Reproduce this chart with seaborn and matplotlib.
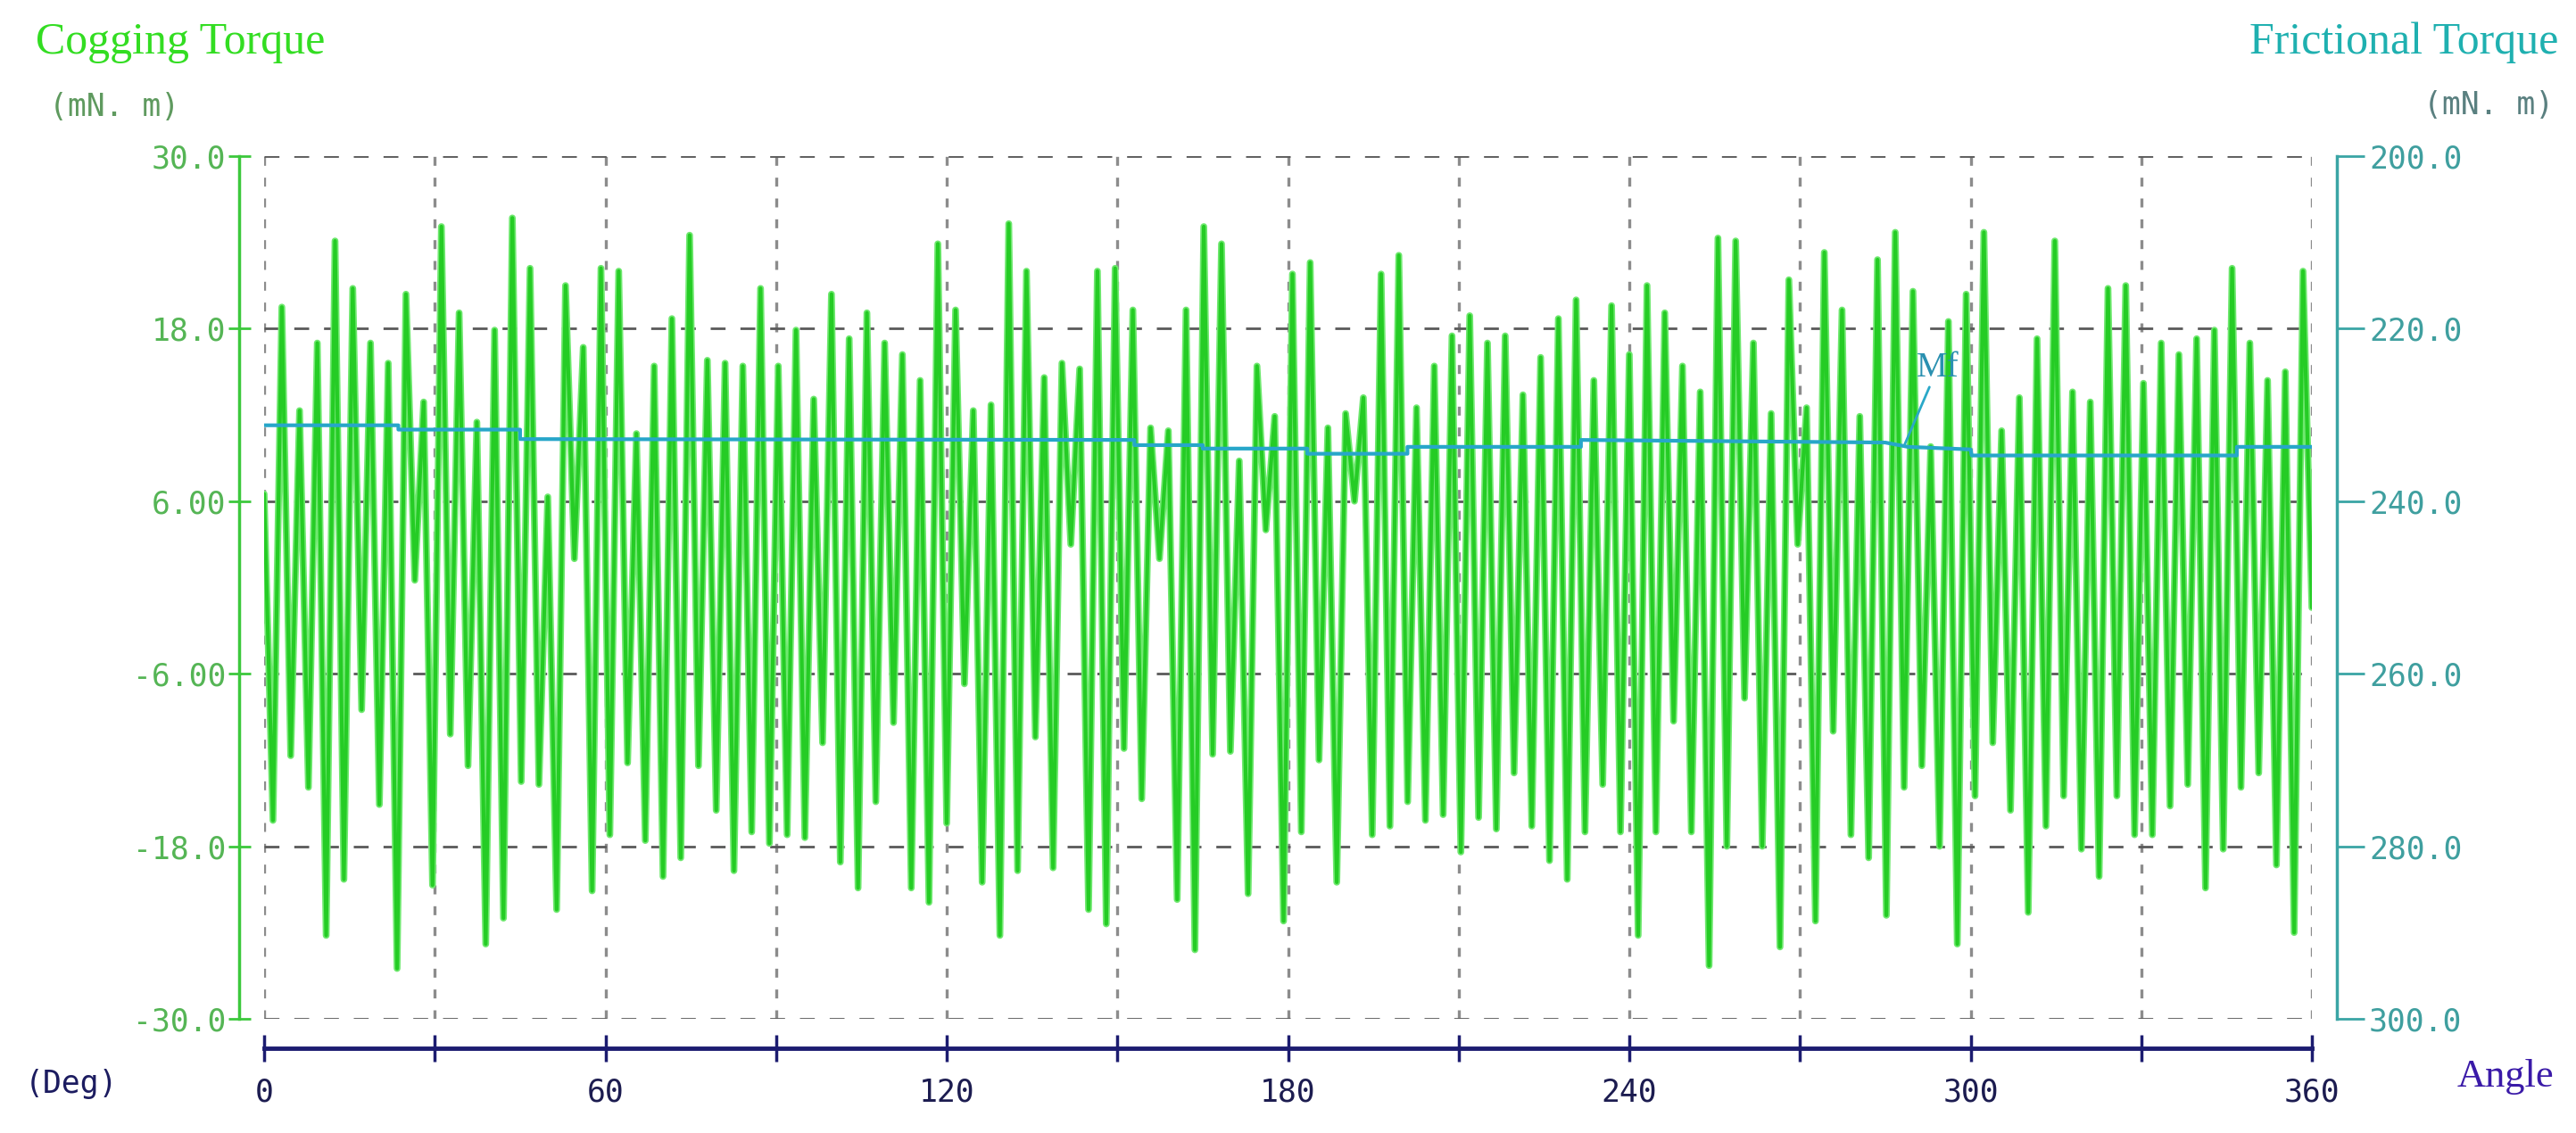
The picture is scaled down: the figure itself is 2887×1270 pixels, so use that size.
import numpy as np
import matplotlib
matplotlib.use('Agg')
import matplotlib.pyplot as plt
import seaborn as sns

# Cogging torque (mN.m), alternating troughs / peaks, in 5 angle blocks
cogging_0_72 = [6.5, -16.2, 19.5, -11.7, 12.3, -13.9, 17, -24.2, 24.1, -20.3, 20.8, -8.5, 17,
                -15.1, 15.6, -26.5, 20.4, 0.5, 12.9, -20.7, 25.1, -10.2, 19.1, -12.4, 11.5,
                -24.8, 17.9, -23, 25.7, -13.5, 22.2, -13.7, 6.3, -22.4, 21, 2, 16.7, -21.1,
                22.2, -17.2, 22, -12.2, 10.7, -17.6, 15.4, -20.1, 18.7, -18.8, 24.5]
cogging_72_144 = [-12.4, 15.8, -15.5, 15.6, -19.7, 15.4, -17, 20.8, -17.8, 15.4, -17.2, 17.9,
                  -17.4, 13.1, -10.8, 20.4, -19.1, 17.3, -20.9, 19.1, -14.9, 17, -9.4, 16.2,
                  -20.9, 14.4, -21.9, 23.9, -16.4, 19.3, -6.7, 12.3, -20.5, 12.7, -24.2, 25.3,
                  -19.7, 22, -10.4, 14.6, -19.5, 15.6, 3, 15.2, -22.4]
cogging_144_216 = [22, -23.4, 22.2, -11.2, 19.3, -14.7, 11.1, 2, 10.9, -21.7, 19.3, -25.2, 25.1,
                   -11.6, 23.9, -11.4, 8.8, -21.3, 15.4, 4, 11.9, -23.2, 21.8, -17, 22.6, -12,
                   11.1, -20.5, 12.1, 6, 13.2, -17.2, 21.8, -16.6, 23.1, -14.9, 12.5, -16.2,
                   15.4, -15.8, 17.5, -18.4, 18.9, -16, 17, -16.8, 17.5, -12.9, 13.4]
cogging_216_288 = [-16.6, 16, -19, 18.7, -20.3, 20, -17, 14.4, -13.7, 19.6, -17, 16.2, -24.2, 21,
                   -17, 19.1, -9.3, 15.4, -17, 13.6, -26.3, 24.3, -18, 24.1, -7.7, 17, -18, 12.1,
                   -25, 21.4, 3, 12.5, -23.2, 23.3, -10, 19.3, -17.2, 11.9, -18.8, 22.8, -22.8,
                   24.7, -13.9, 20.6, -12.4, 9.8]
cogging_288_360 = [-18, 18.5, -24.8, 20.4, -14.5, 24.7, -10.8, 10.9, -15.5, 13.2, -22.6, 17.3,
                   -16.6, 24.1, -14.5, 13.6, -18.2, 12.9, -20.1, 20.8, -14.5, 21, -17.2, 14.2,
                   -17.2, 17, -15.2, 16.2, -13.7, 17.3, -20.9, 17.9, -18.2, 22.2, -13.9, 17,
                   -12.9, 14.4, -19.3, 15, -24, 22, -1.4]

# Frictional torque (mN.m), stepped trace
friction_angle = [0, 23.6, 23.6, 45, 45, 153, 153, 165, 165, 183.4, 183.4, 201, 201, 231.5,
                  231.5, 285, 289, 300, 300.2, 346.8, 346.8, 360]
friction_value = [231.2, 231.2, 231.7, 231.7, 232.8, 232.9, 233.5, 233.5, 233.9, 233.9, 234.5,
                  234.5, 233.7, 233.7, 232.9, 233.2, 233.7, 234.0, 234.7, 234.7, 233.7, 233.7]

left_ticks = [-30, -18, -6, 6, 18, 30]
left_labels = ['-30.0', '-18.0', '-6.00', '6.00', '18.0', '30.0']
right_ticks = [200, 220, 240, 260, 280, 300]
right_labels = ['200.0', '220.0', '240.0', '260.0', '280.0', '300.0']
x_major = [0, 60, 120, 180, 240, 300, 360]
x_minor = [30, 90, 150, 210, 270, 330]

cogging = cogging_0_72 + cogging_72_144 + cogging_144_216 + cogging_216_288 + cogging_288_360
angle = np.linspace(0, 360, len(cogging))

sns.set_style('white')
plt.rcParams['font.family'] = ['DejaVu Sans Mono', 'DejaVu Sans']

W, H = 2887, 1270
fig = plt.figure(figsize=(W / 100, H / 100), dpi=100)
ax = fig.add_axes([296 / W, 1 - 1142 / H, (2591 - 296) / W, (1142 - 175) / H])

# dashed grid first so the trace covers it
ax.set_axisbelow(True)
ax.grid(True, axis='y', color='#5a5a5a', linestyle=(0, (6, 6)), linewidth=2)
ax.grid(True, axis='x', which='both', color='#8c8c8c', linestyle=(0, (3, 4)), linewidth=2.4)

sns.lineplot(x=angle, y=cogging, estimator=None, sort=False, color='#6fe86f', linewidth=5.5, ax=ax)
sns.lineplot(x=angle, y=cogging, estimator=None, sort=False, color='#25cc25', linewidth=3.0, ax=ax)

ax.set_xlim(0, 360)
ax.set_ylim(-30, 30)
ax.set_xticks(x_major)
ax.set_xticks(x_minor, minor=True)
ax.set_xticklabels([str(v) for v in x_major])
ax.set_yticks(left_ticks)
ax.set_yticklabels(left_labels)
ax.set_xlabel('')
ax.set_ylabel('')

for s in ['top', 'right']:
    ax.spines[s].set_visible(False)
ax.spines['left'].set_position(('outward', 20))
ax.spines['left'].set_color('#3cc83c')
ax.spines['left'].set_linewidth(2.5)
ax.spines['bottom'].set_position(('outward', 24))
ax.spines['bottom'].set_color('#1c1c70')
ax.spines['bottom'].set_linewidth(3.5)

ax.tick_params(axis='y', left=True, direction='inout', length=18, width=2, color='#3cc83c',
               labelcolor='#55b555', labelsize=25, pad=2)
ax.tick_params(axis='x', which='both', bottom=True, direction='inout', length=22, width=2.5,
               color='#1c1c70', labelcolor='#1c1c50', labelsize=25, pad=12)

# right axis for frictional torque
ax2 = ax.twinx()
sns.lineplot(x=friction_angle, y=friction_value, estimator=None, sort=False,
             color='#27a6c9', linewidth=3, ax=ax2)
ax2.set_ylim(300, 200)
ax2.set_yticks(right_ticks)
ax2.set_yticklabels(right_labels)
ax2.set_ylabel('')
for s in ['top', 'left', 'bottom']:
    ax2.spines[s].set_visible(False)
ax2.spines['right'].set_position(('outward', 20))
ax2.spines['right'].set_color('#3aa5a5')
ax2.spines['right'].set_linewidth(2.5)
ax2.tick_params(axis='y', right=True, direction='out', length=22, width=2, color='#3aa5a5',
                labelcolor='#3f9f9f', labelsize=25, pad=4)

ax2.annotate('Mf', xy=(288.3, 233.6), xytext=(290.5, 225.5), color='#2a90b0', fontsize=28,
             family='Liberation Serif',
             arrowprops=dict(arrowstyle='-', color='#2aa8c8', lw=2, shrinkA=0, shrinkB=0))

# titles and unit labels
fig.text(40 / W, 1 - 48 / H, 'Cogging Torque', color='#33dd22', fontsize=36,
         family='Liberation Serif', va='center', ha='left')
fig.text(55 / W, 1 - 120 / H, '(mN. m)', color='#5f9a5f', fontsize=25, va='center', ha='left')
fig.text(2867 / W, 1 - 48 / H, 'Frictional Torque', color='#1fb0b0', fontsize=36,
         family='Liberation Serif', va='center', ha='right')
fig.text(2862 / W, 1 - 118 / H, '(mN. m)', color='#5a8080', fontsize=25, va='center', ha='right')
fig.text(28 / W, 1 - 1215 / H, '(Deg)', color='#1c1c60', fontsize=25, va='center', ha='left')
fig.text(2862 / W, 1 - 1207 / H, 'Angle', color='#3a1aa8', fontsize=32,
         family='Liberation Serif', va='center', ha='right')

fig.savefig('out.png', dpi=100, facecolor='white')
